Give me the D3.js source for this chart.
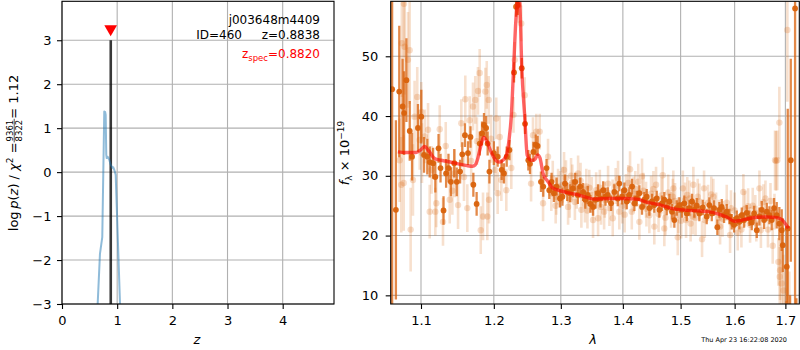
<!DOCTYPE html>
<html>
<head>
<meta charset="utf-8">
<script src="https://cdn.jsdelivr.net/npm/d3@7"></script>
<style>
  body { margin: 0; background: #fff; }
  svg { display: block; }
  text { font-family: "DejaVu Sans", sans-serif; fill: #000; }
</style>
</head>
<body>
<svg id="fig" width="800" height="350"></svg>
<script>
// ---------------- data ----------------
// redshift probability: z, log p(z)
const pzZ    = [0.640, 0.647, 0.688, 0.730, 0.766, 0.774, 0.782, 0.792, 0.802, 0.810, 0.828, 0.857, 0.882, 0.912, 0.929, 0.948, 0.973, 1.051, 1.060];
const pzLogP = [-3.3, -2.99, -1.86, -1.48, 1.38, 0.95, 1.37, 1.30, 0.40, 0.32, 0.35, 0.28, 0.17, 0.10, 0.11, 0.05, -0.06, -2.98, -3.3];
const zBest = 0.8838, zSpec = 0.8820, zMarker = 3.26, zPeakLogP = 3.0;
const zTicks = [0, 1, 2, 3, 4];
const logpTicks = [-3, -2, -1, 0, 1, 2, 3];
const zLimits = [0, 4.93];
const logpLimits = [-3, 3.886];

// spectrum, first grism: [wavelength (µm), flux, error]
const darkSpec = [
  [1.0627, 44.5, 36], [1.0675, 24.3, 15], [1.0718, 44.1, 11], [1.0761, 41.6, 8], [1.0780, 40.5, 7],
  [1.0810, 46.0, 7], [1.0853, 37.5, 5], [1.0883, 33.2, 4], [1.0960, 38.0, 4], [1.1004, 39.9, 4.5],
  [1.1040, 33.5, 3], [1.1083, 33.2, 3], [1.1115, 32.3, 2.6], [1.1160, 32.1, 2.6], [1.1190, 29.8, 2.6],
  [1.1233, 34.6, 2.4], [1.1260, 31.3, 2.4], [1.1300, 24.2, 2.4], [1.1335, 30.4, 2.4], [1.1367, 31.3, 2.4],
  [1.1400, 29.0, 2.4], [1.1446, 32.1, 2.4], [1.1480, 29.0, 2.4], [1.1526, 30.7, 2], [1.1556, 33.6, 2],
  [1.1593, 36.8, 2], [1.1635, 33.8, 2], [1.1670, 36.5, 1.8], [1.1710, 28.5, 2], [1.1756, 25.3, 2],
  [1.1800, 35.4, 2], [1.1832, 37.1, 2], [1.1860, 38.5, 2], [1.1890, 38.0, 2], [1.1912, 35.4, 2],
  [1.1937, 30.7, 2], [1.2000, 33.8, 2], [1.2055, 33.2, 1.7], [1.2113, 31.0, 1.7], [1.2146, 30.4, 1.7],
  [1.2186, 33.2, 1.7], [1.2226, 34.3, 1.7], [1.2293, 47.3, 1.7], [1.2323, 58.3, 1.7], [1.2348, 58.6, 1.7],
  [1.2407, 48.0, 1.7], [1.2456, 38.7, 1.7], [1.2505, 32.6, 1.7], [1.2530, 32.0, 1.7], [1.2580, 34.0, 1.7],
  [1.2615, 35.2, 1.7], [1.2645, 35.0, 1.7], [1.2695, 29.0, 1.7], [1.2730, 28.2, 1.7], [1.2780, 31.3, 1.5],
  [1.2822, 27.6, 1.5], [1.2857, 29.0, 1.5], [1.2893, 27.1, 1.5], [1.2935, 28.2, 1.5], [1.2987, 26.2, 1.5],
  [1.3025, 26.5, 1.5], [1.3065, 28.7, 1.5], [1.3100, 27.3, 1.5], [1.3145, 27.1, 1.5], [1.3187, 27.9, 1.5],
  [1.3225, 29.0, 1.5], [1.3267, 26.8, 1.5], [1.3305, 28.2, 1.5], [1.3350, 27.3, 1.5], [1.3385, 26.0, 1.5],
  [1.3425, 26.8, 1.5], [1.3467, 25.3, 1.5], [1.3510, 24.8, 1.5], [1.3550, 26.0, 1.5], [1.3590, 27.1, 1.5],
  [1.3630, 26.2, 1.5], [1.3675, 27.6, 1.5], [1.3713, 26.5, 1.5], [1.3750, 26.8, 1.3], [1.3804, 25.4, 1.3],
  [1.3858, 27.3, 1.3], [1.3915, 26.2, 1.3], [1.3941, 28.7, 1.3], [1.3986, 26.5, 1.3], [1.4025, 27.6, 1.3],
  [1.4065, 25.7, 1.3], [1.4109, 26.8, 1.3], [1.4155, 28.2, 1.3], [1.4194, 25.4, 1.3], [1.4235, 26.2, 1.3],
  [1.4279, 27.1, 1.3], [1.4324, 24.8, 1.3], [1.4364, 26.0, 1.3], [1.4405, 26.5, 1.3], [1.4450, 24.6, 1.3],
  [1.4497, 25.7, 1.3], [1.4536, 25.1, 1.3], [1.4578, 26.2, 1.3], [1.4624, 24.3, 1.3], [1.4671, 25.4, 1.3],
  [1.4711, 26.0, 1.3], [1.4754, 24.7, 1.3], [1.4800, 25.7, 1.3], [1.4847, 24.0, 1.3], [1.4888, 22.6, 1.3],
  [1.4931, 24.6, 1.3], [1.4978, 25.1, 1.3], [1.5026, 24.3, 1.3], [1.5067, 25.4, 1.3], [1.5111, 23.7, 1.3],
  [1.5158, 24.6, 1.3], [1.5206, 25.7, 1.3], [1.5248, 24.3, 1.3], [1.5292, 25.0, 1.3], [1.5340, 23.7, 1.3],
  [1.5402, 24.7, 1.3], [1.5475, 23.2, 1.3], [1.5524, 25.1, 1.3], [1.5569, 23.7, 1.3], [1.5611, 24.6, 1.3],
  [1.5673, 21.4, 1.3], [1.5711, 24.3, 1.3], [1.5756, 24.8, 1.3], [1.5799, 23.4, 1.3], [1.5850, 24.0, 1.3],
  [1.5900, 23.2, 1.3], [1.5945, 22.3, 1.3], [1.5989, 21.8, 1.3], [1.6041, 22.9, 1.3], [1.6091, 22.3, 1.3],
  [1.6137, 23.4, 1.3], [1.6181, 22.6, 1.3], [1.6233, 23.8, 1.3], [1.6284, 22.9, 1.3], [1.6331, 22.2, 1.3],
  [1.6376, 23.7, 1.3], [1.6429, 20.9, 1.3], [1.6481, 23.2, 1.5], [1.6527, 24.3, 1.5], [1.6573, 22.6, 1.5],
  [1.6627, 24.0, 1.5], [1.6679, 23.4, 1.5], [1.6725, 22.6, 1.7], [1.6771, 24.6, 1.7], [1.6825, 23.4, 2.2],
  [1.6878, 22.0, 2.8], [1.6926, 20.9, 3.5], [1.6947, 18.4, 4.5], [1.7028, 14.8, 6], [1.7048, 21.2, 20],
  [1.7110, 32.6, 17], [1.7198, 58.0, 50], [1.7020, 5.0, 4], [1.7096, 3.0, 7], [1.7225, 2.0, 7.5]
];

// spectrum, second grism: [wavelength (µm), flux, error]
const lightSpec = [
  [1.0723, 32.6, 7], [1.0744, 28.5, 8], [1.0751, 52.2, 9], [1.0775, 28.8, 8], [1.0778, 58.8, 9],
  [1.0787, 51.6, 8], [1.0830, 49.4, 8], [1.0852, 51.0, 9], [1.0865, 21.0, 7], [1.0895, 29.3, 6],
  [1.0916, 39.9, 6], [1.0951, 43.2, 5], [1.0983, 36.0, 5], [1.1004, 40.7, 5], [1.1013, 33.8, 5],
  [1.1050, 36.6, 4.5], [1.1093, 37.7, 4.5], [1.1115, 24.0, 4.5], [1.1140, 31.0, 4], [1.1190, 24.0, 4],
  [1.1203, 25.4, 4], [1.1249, 37.8, 4], [1.1293, 22.3, 4], [1.1330, 35.0, 4], [1.1384, 26.0, 4],
  [1.1420, 27.5, 4], [1.1452, 30.4, 4], [1.1498, 25.1, 4], [1.1543, 38.8, 4], [1.1580, 29.8, 4],
  [1.1598, 42.8, 4], [1.1626, 24.6, 4], [1.1659, 39.3, 4], [1.1680, 32.5, 4], [1.1705, 41.6, 4],
  [1.1737, 42.7, 4], [1.1760, 35.8, 4], [1.1775, 44.2, 4], [1.1799, 47.2, 4], [1.1814, 20.9, 4],
  [1.1846, 23.2, 4], [1.1879, 44.1, 4], [1.1899, 45.2, 4], [1.1907, 23.2, 4], [1.1927, 42.7, 4],
  [1.1931, 26.0, 4], [1.1960, 36.2, 4], [1.2020, 31.0, 3.5], [1.2035, 39.6, 3.5], [1.2055, 27.1, 3.5],
  [1.2085, 36.5, 3.5], [1.2108, 29.3, 3.5], [1.2180, 27.6, 3.5], [1.2253, 31.3, 3.5], [1.2285, 40.2, 3],
  [1.2303, 49.4, 3], [1.2362, 58.6, 3], [1.2400, 55.5, 3], [1.2451, 43.5, 3], [1.2546, 28.7, 3],
  [1.2575, 36.8, 3], [1.2625, 37.4, 3], [1.2676, 37.4, 3], [1.2727, 25.4, 3], [1.2803, 33.2, 3],
  [1.2853, 27.1, 3], [1.2875, 29.5, 3], [1.2920, 25.0, 3], [1.2930, 26.5, 3], [1.2957, 28.2, 3],
  [1.2990, 27.8, 3], [1.3030, 28.5, 3], [1.3050, 31.0, 3], [1.3080, 29.6, 3], [1.3113, 24.8, 3],
  [1.3139, 26.0, 3], [1.3160, 30.0, 3], [1.3180, 28.9, 3], [1.3220, 25.6, 3], [1.3250, 27.5, 3],
  [1.3271, 30.4, 3], [1.3310, 29.2, 3], [1.3323, 24.3, 3], [1.3380, 25.2, 3], [1.3402, 28.2, 3],
  [1.3420, 24.2, 3], [1.3450, 28.0, 3], [1.3490, 26.8, 3], [1.3510, 22.6, 3], [1.3560, 27.6, 3],
  [1.3592, 22.9, 3], [1.3620, 28.0, 3], [1.3640, 24.8, 3], [1.3690, 24.0, 3], [1.3701, 26.0, 3],
  [1.3755, 28.7, 3], [1.3777, 24.6, 3], [1.3830, 26.4, 3], [1.3832, 22.9, 3], [1.3880, 28.3, 3],
  [1.3920, 29.5, 3], [1.3941, 24.0, 3], [1.3990, 25.0, 3], [1.4030, 23.5, 3], [1.4052, 27.3, 3],
  [1.4090, 28.8, 3], [1.4121, 31.1, 3], [1.4150, 24.0, 3], [1.4180, 26.9, 3], [1.4210, 27.8, 3],
  [1.4260, 29.0, 3], [1.4279, 22.3, 3], [1.4324, 29.9, 3], [1.4350, 27.5, 3], [1.4393, 26.0, 3],
  [1.4400, 24.5, 3], [1.4450, 23.4, 3], [1.4480, 27.0, 3], [1.4520, 27.8, 3], [1.4536, 21.5, 3],
  [1.4566, 28.5, 3], [1.4610, 23.6, 3], [1.4660, 26.7, 3], [1.4683, 30.1, 3], [1.4711, 21.2, 3],
  [1.4730, 23.0, 3], [1.4780, 27.2, 3], [1.4830, 24.3, 3], [1.4860, 26.5, 3], [1.4870, 27.9, 3],
  [1.4900, 25.8, 3], [1.4949, 19.7, 3], [1.4960, 23.4, 3], [1.5010, 22.5, 3], [1.5040, 27.9, 3],
  [1.5080, 25.9, 3], [1.5098, 22.6, 3], [1.5120, 26.8, 3], [1.5158, 26.2, 3], [1.5180, 22.0, 3],
  [1.5221, 23.2, 3], [1.5230, 28.5, 3], [1.5270, 23.0, 3], [1.5310, 26.5, 3], [1.5340, 25.7, 3],
  [1.5389, 19.4, 3], [1.5426, 27.9, 3], [1.5440, 22.6, 3], [1.5500, 25.5, 3], [1.5560, 26.9, 3],
  [1.5598, 26.5, 3], [1.5650, 24.2, 3], [1.5700, 23.0, 3], [1.5724, 21.5, 3], [1.5770, 22.8, 3],
  [1.5850, 25.5, 3], [1.5913, 20.1, 3], [1.5930, 24.6, 3], [1.6000, 24.2, 3], [1.6060, 20.5, 3],
  [1.6130, 21.0, 3], [1.6168, 27.3, 3], [1.6200, 24.5, 3], [1.6260, 24.9, 3], [1.6298, 21.8, 3],
  [1.6350, 25.0, 3], [1.6400, 23.8, 3], [1.6420, 22.0, 3], [1.6481, 27.9, 3], [1.6510, 20.9, 3],
  [1.6560, 25.6, 3], [1.6600, 26.2, 3], [1.6650, 21.0, 3], [1.6700, 25.8, 3], [1.6745, 18.3, 3],
  [1.6780, 24.0, 3], [1.6791, 32.6, 5], [1.6811, 32.5, 5], [1.6837, 32.6, 5], [1.6858, 15.6, 4],
  [1.6878, 38.9, 6], [1.6886, 13.1, 5], [1.6892, 14.2, 5], [1.6926, 12.0, 6], [1.6960, 10.8, 6],
  [1.6990, 8.0, 7], [1.7040, 54.4, 12], [1.7080, 6.0, 8]
];

// best-fit template
const modelWave = [1.0700, 1.0800, 1.0936, 1.1000, 1.1049, 1.1100, 1.1180, 1.1260, 1.1355, 1.1500,
  1.1620, 1.1700, 1.1735, 1.1770, 1.1800, 1.1857, 1.1900, 1.1960, 1.2035, 1.2080, 1.2120, 1.2162,
  1.2186, 1.2220, 1.2253, 1.2288, 1.2320, 1.2345, 1.2362, 1.2380, 1.2407, 1.2451, 1.2489, 1.2546,
  1.2600, 1.2645, 1.2680, 1.2727, 1.2803, 1.2870, 1.2957, 1.3100, 1.3271, 1.3538, 1.3755, 1.4000,
  1.4240, 1.4400, 1.4650, 1.4850, 1.5030, 1.5350, 1.5500, 1.5700, 1.5850, 1.6000, 1.6100, 1.6300,
  1.6600, 1.6830, 1.6950, 1.7060];
const modelFlux = [34.0, 33.9, 33.9, 34.4, 34.9, 34.2, 32.9, 32.6, 32.4, 32.0,
  31.7, 31.6, 31.8, 32.8, 34.3, 36.4, 35.8, 34.0, 32.5, 32.3, 32.5, 33.0,
  33.6, 36.0, 40.0, 48.3, 56.0, 59.5, 60.5, 58.5, 48.3, 40.0, 33.4, 32.6,
  32.7, 33.5, 33.0, 30.4, 29.0, 28.0, 27.6, 27.2, 26.8, 26.1, 26.2, 26.2,
  26.1, 25.6, 25.1, 24.5, 24.3, 24.1, 24.0, 23.6, 23.1, 22.4, 22.5, 22.9,
  23.1, 23.0, 22.5, 21.2];
const waveTicks = [1.1, 1.2, 1.3, 1.4, 1.5, 1.6, 1.7];
const fluxTicks = [10, 20, 30, 40, 50];
const waveLimits = [1.0609, 1.7285];
const fluxLimits = [8.55, 59.2];

const objName = "j003648m4409", objId = 460;
const chi2Num = 9361, chi2Den = 8322;
const stamp = "Thu Apr 23 16:22:08 2020";

// ---------------- drawing ----------------
const svg = d3.select("#fig");
const GRID = "#b0b0b0";
const ORANGE = "#d9620c";

function panel(id, box, xs, ys, xTicks, yTicks, xFmt, yFmt, yPad) {
  const g = svg.append("g").attr("id", id);
  svg.append("clipPath").attr("id", id + "-clip")
    .append("rect").attr("x", box.x0).attr("y", box.y0)
    .attr("width", box.x1 - box.x0).attr("height", box.y1 - box.y0);
  const grid = g.append("g");
  grid.selectAll("line.gx").data(xTicks).join("line")
    .attr("x1", d => xs(d)).attr("x2", d => xs(d))
    .attr("y1", box.y0).attr("y2", box.y1)
    .attr("stroke", GRID).attr("stroke-width", 1.1);
  grid.selectAll("line.gy").data(yTicks).join("line")
    .attr("y1", d => ys(d)).attr("y2", d => ys(d))
    .attr("x1", box.x0).attr("x2", box.x1)
    .attr("stroke", GRID).attr("stroke-width", 1.1);
  const ax = g.append("g").attr("transform", `translate(0,${box.y1})`)
    .call(d3.axisBottom(xs).tickValues(xTicks).tickFormat(xFmt).tickSize(5).tickPadding(7));
  const ay = g.append("g").attr("transform", `translate(${box.x0},0)`)
    .call(d3.axisLeft(ys).tickValues(yTicks).tickFormat(yFmt).tickSize(5).tickPadding(yPad));
  [ax, ay].forEach(a => {
    a.select(".domain").remove();
    a.attr("font-family", null).attr("font-size", null);
    a.selectAll("line").attr("stroke", "#000").attr("stroke-width", 1.1);
    a.selectAll("text").attr("font-size", 13).style("font-family", "'DejaVu Sans', sans-serif");
  });
  const plot = g.append("g").attr("clip-path", `url(#${id}-clip)`);
  const frame = () => g.append("rect")
    .attr("x", box.x0).attr("y", box.y0)
    .attr("width", box.x1 - box.x0).attr("height", box.y1 - box.y0)
    .attr("fill", "none").attr("stroke", "#000").attr("stroke-width", 1.1);
  return { g, plot, frame };
}

// ---- left: p(z) ----
const LB = { x0: 62, x1: 334, y0: 1.3, y1: 304 };
const xz = d3.scaleLinear().domain(zLimits).range([LB.x0, LB.x1]);
const yp = d3.scaleLinear().domain(logpLimits).range([LB.y1, LB.y0]);
const left = panel("pz", LB, xz, yp, zTicks, logpTicks, d3.format("d"), d3.format("d"), 5.5);

left.plot.append("line")
  .attr("x1", xz(zBest)).attr("x2", xz(zBest))
  .attr("y1", yp(logpLimits[0])).attr("y2", yp(zPeakLogP))
  .attr("stroke", "#000").attr("stroke-opacity", 0.78).attr("stroke-width", 2.6);

left.plot.append("path")
  .datum(d3.zip(pzZ, pzLogP))
  .attr("d", d3.line().x(d => xz(d[0])).y(d => yp(d[1])))
  .attr("fill", "none").attr("stroke", "#1f77b4").attr("stroke-opacity", 0.5)
  .attr("stroke-width", 2).attr("stroke-linejoin", "round");

left.plot.append("path")
  .attr("d", d3.symbol(d3.symbolTriangle, 70)())
  .attr("transform", `translate(${xz(zSpec)},${yp(zMarker)}) rotate(180)`)
  .attr("fill", "#ff0000");
left.frame();

// annotation block
const ann = svg.append("g").attr("font-size", 12);
ann.append("text").attr("x", 320).attr("y", 24).attr("text-anchor", "end").attr("font-size", 12).text(objName);
ann.append("text").attr("x", 242).attr("y", 38.5).attr("text-anchor", "end").attr("font-size", 12).text(`ID=${objId}`);
ann.append("text").attr("x", 320).attr("y", 38.5).attr("text-anchor", "end").attr("font-size", 12).text(`z=${zBest.toFixed(4)}`);
const zs = ann.append("text").attr("x", 320).attr("y", 58).attr("text-anchor", "end")
  .attr("font-size", 12).style("fill", "#ff0000");
zs.append("tspan").text("z");
zs.append("tspan").attr("font-size", 8.5).attr("dy", 2.5).text("spec");
zs.append("tspan").attr("dy", -2.5).text(`=${zSpec.toFixed(4)}`);

// axis labels (left)
svg.append("text").attr("x", 197).attr("y", 344).attr("text-anchor", "middle")
  .attr("font-size", 13).attr("font-style", "italic").text("z");

const ylab = svg.append("g");
const t1 = ylab.append("text").attr("font-size", 13);
t1.append("tspan").text("log\u2009");
t1.append("tspan").attr("font-style", "italic").text("p");
t1.append("tspan").text("(");
t1.append("tspan").attr("font-style", "italic").text("z");
t1.append("tspan").text(") / ");
t1.append("tspan").attr("font-style", "italic").text("\u03c7");
t1.append("tspan").attr("font-size", 9).attr("dy", -5).text("2");
t1.append("tspan").attr("dy", 5).text(" = ");
const w1 = t1.node().getComputedTextLength();
const num = ylab.append("text").attr("font-size", 8.5).attr("text-anchor", "middle").attr("y", -4.6).text(chi2Num);
const den = ylab.append("text").attr("font-size", 8.5).attr("text-anchor", "middle").attr("y", 4.6).text(chi2Den);
const fw = Math.max(num.node().getComputedTextLength(), den.node().getComputedTextLength()) + 2;
num.attr("x", w1 + fw / 2); den.attr("x", w1 + fw / 2);
ylab.append("line").attr("x1", w1).attr("x2", w1 + fw).attr("y1", -3.3).attr("y2", -3.3)
  .attr("stroke", "#000").attr("stroke-width", 0.7);
const t3 = ylab.append("text").attr("font-size", 13).attr("x", w1 + fw)
  .text(` = ${(chi2Num / chi2Den).toFixed(2)}`);
const W = w1 + fw + t3.node().getComputedTextLength();
ylab.attr("transform", `translate(17.5,${153 + W / 2}) rotate(-90)`);

// ---- right: spectrum ----
const RB = { x0: 390.7, x1: 799.3, y0: 1.3, y1: 304 };
const xw = d3.scaleLog().domain(waveLimits).range([RB.x0, RB.x1]);
const yf = d3.scaleLinear().domain(fluxLimits).range([RB.y1, RB.y0]);
const right = panel("spec", RB, xw, yf, waveTicks, fluxTicks, d3.format(".1f"), d3.format("d"), 7.5);

function drawSeries(data, barOp, dotOp, r, bw) {
  const s = right.plot.append("g");
  s.selectAll("line").data(data).join("line")
    .attr("x1", d => xw(d[0])).attr("x2", d => xw(d[0]))
    .attr("y1", d => yf(d[1] - d[2])).attr("y2", d => yf(d[1] + d[2]))
    .attr("stroke", ORANGE).attr("stroke-opacity", barOp).attr("stroke-width", bw);
  s.selectAll("circle").data(data).join("circle")
    .attr("cx", d => xw(d[0])).attr("cy", d => yf(d[1])).attr("r", r)
    .attr("fill", ORANGE).attr("fill-opacity", dotOp);
}
drawSeries(lightSpec, 0.2, 0.22, 3.2, 2.6);
drawSeries(darkSpec, 0.75, 0.95, 2.9, 2.3);

right.plot.append("path")
  .datum(d3.zip(modelWave, modelFlux))
  .attr("d", d3.line().curve(d3.curveMonotoneX).x(d => xw(d[0])).y(d => yf(d[1])))
  .attr("fill", "none").attr("stroke", "#ff0000").attr("stroke-opacity", 0.6)
  .attr("stroke-width", 3.4).attr("stroke-linejoin", "round");
right.frame();

svg.append("text").attr("x", 593).attr("y", 344).attr("text-anchor", "middle")
  .attr("font-size", 13).attr("font-style", "italic").text("\u03bb");

const fl = svg.append("text").attr("transform", "translate(349,153) rotate(-90)")
  .attr("text-anchor", "middle").attr("font-size", 13);
fl.append("tspan").attr("font-style", "italic").text("f");
fl.append("tspan").attr("font-size", 9).attr("dy", 3).text("\u03bb");
fl.append("tspan").attr("dy", -3).text(" \u00d7 10");
fl.append("tspan").attr("font-size", 9).attr("dy", -5).text("\u221219");

svg.append("text").attr("x", 787).attr("y", 342).attr("text-anchor", "end")
  .attr("font-size", 6.5).text(stamp);
</script>
</body>
</html>
